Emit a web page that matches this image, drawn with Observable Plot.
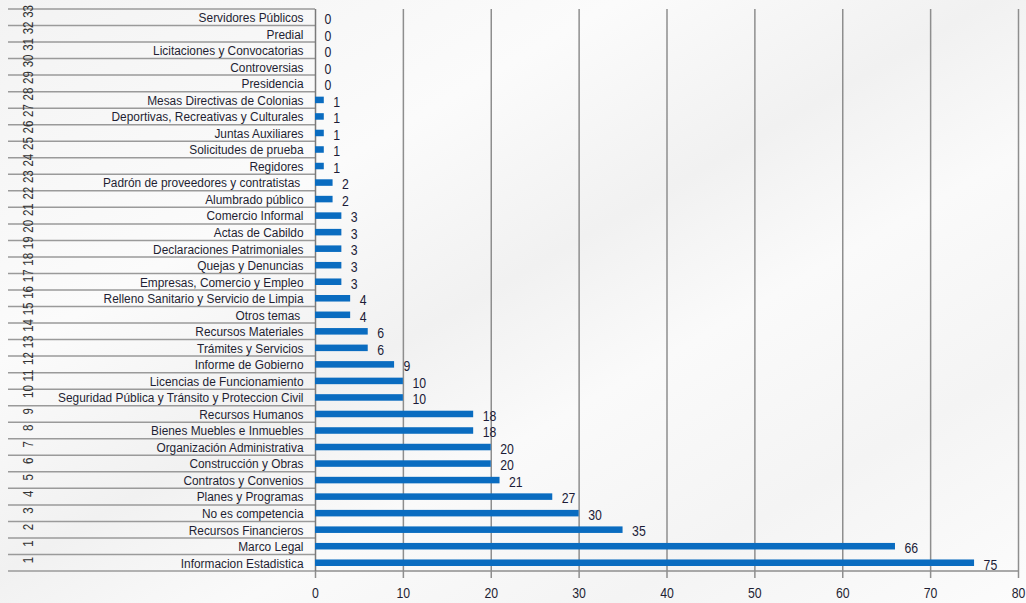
<!DOCTYPE html>
<html>
<head>
<meta charset="utf-8">
<script src="https://cdn.jsdelivr.net/npm/d3@7"></script>
<script src="https://cdn.jsdelivr.net/npm/@observablehq/plot@0.6"></script>
<style>
  html, body { margin: 0; padding: 0; }
  body {
    width: 1026px; height: 603px; overflow: hidden;
    background: linear-gradient(150deg, #f3f3f3 0%, #fbfbfb 30%, #f1f1f1 48%, #fafafa 62%, #f4f4f4 80%, #fcfcfc 100%);
  }
  #chart svg { display: block; background: transparent; }
  #chart text { font-family: "Liberation Sans", Arial, sans-serif; }
</style>
</head>
<body>
<div id="chart"></div>
<script>
const categories = [
  "Servidores Públicos", "Predial", "Licitaciones y Convocatorias", "Controversias", "Presidencia",
  "Mesas Directivas de Colonias", "Deportivas, Recreativas y Culturales", "Juntas Auxiliares",
  "Solicitudes de prueba", "Regidores", "Padrón de proveedores y contratistas ", "Alumbrado público",
  "Comercio Informal", "Actas de Cabildo", "Declaraciones Patrimoniales", "Quejas y Denuncias",
  "Empresas, Comercio y Empleo", "Relleno Sanitario y Servicio de Limpia", "Otros temas ",
  "Recursos Materiales", "Trámites y Servicios", "Informe de Gobierno", "Licencias de Funcionamiento",
  "Seguridad Pública y Tránsito y Proteccion Civil", "Recursos Humanos", "Bienes Muebles e Inmuebles",
  "Organización Administrativa", "Construcción y Obras", "Contratos y Convenios", "Planes y Programas",
  "No es competencia", "Recursos Financieros", "Marco Legal", "Informacion Estadistica"
];
const values = [0, 0, 0, 0, 0, 1, 1, 1, 1, 1, 2, 2, 3, 3, 3, 3, 3, 4, 4, 6, 6, 9, 10, 10, 18, 18, 20, 20, 21, 27, 30, 35, 66, 75];
const rowNumbers = ["33", "32", "31", "30", "29", "28", "27", "26", "25", "24", "23", "22", "21", "20", "19", "18", "17",
  "16", "15", "14", "13", "12", "11", "10", "9", "8", "7", "6", "5", "4", "3", "2", "1", "1"];
const xTicks = [0, 10, 20, 30, 40, 50, 60, 70, 80];

const data = categories.map((c, i) => ({cat: c, value: values[i], num: rowNumbers[i]}));

const plot = Plot.plot({
  width: 1026,
  height: 603,
  marginLeft: 315,
  marginRight: 8,
  marginTop: 9,
  marginBottom: 32,
  style: {background: "transparent", color: "#1f1f33"},
  x: {domain: [0, 80], ticks: xTicks},
  y: {domain: categories, padding: 0, round: false},
  marks: [
    Plot.ruleX(xTicks.slice(1), {stroke: "#8e8e8e", strokeWidth: 1.5}),
    Plot.ruleX([0], {stroke: "#7a7a7a", strokeWidth: 1.5}),
    Plot.barX(data, {x: "value", y: "cat", fill: "#0a6cc0", insetTop: 5, insetBottom: 5}),
    Plot.text(data, {x: "value", y: "cat", text: d => String(d.value), dx: 9, dy: 1.5, textAnchor: "start", fontSize: 15, fill: "#1c1c38"}),
    Plot.text(data, {y: "cat", text: "num", frameAnchor: "left", dx: -287, rotate: -90, fontSize: 14, fill: "#333"}),
    Plot.axisY({tickSize: 0, tickPadding: 12, fontSize: 13.5, label: null, fill: "#1f1f33"}),
    Plot.axisX({ticks: xTicks, tickSize: 7, tickPadding: 9, fontSize: 15, label: null, stroke: "#8e8e8e", strokeWidth: 1.5, fill: "#1f1f33"})
  ]
});

document.getElementById("chart").appendChild(plot);

const svg = d3.select(plot);
// narrow the type (Arial Narrow look) around each text's own anchor
svg.selectAll("g[aria-label='y-axis tick label'] text").each(function() {
  const t = this.getAttribute("transform");
  if (t && t.includes("translate")) this.setAttribute("transform", t + " scale(0.88,1)");
});
svg.selectAll("text").each(function() {
  const t = this.getAttribute("transform");
  if (t && t.includes("translate") && !t.includes("scale")) this.setAttribute("transform", t + " scale(0.82,1)");
});

// table grid lines in the label area, positioned with the plot's own y scale
const ys = plot.scale("y");
const xs = plot.scale("x");
const bw = ys.bandwidth;
const bounds = categories.map(c => ys.apply(c)).concat([ys.apply(categories[categories.length - 1]) + bw]);
const x0 = xs.apply(0);
const g = svg.insert("g", ":first-child");
g.selectAll("line.row").data(bounds).join("line")
  .attr("x1", 8).attr("x2", x0)
  .attr("y1", d => d).attr("y2", d => d)
  .attr("stroke", "#9a9a9a").attr("stroke-width", 1.5);
// x axis baseline
g.append("line")
  .attr("x1", x0).attr("x2", xs.apply(80))
  .attr("y1", bounds[bounds.length - 1]).attr("y2", bounds[bounds.length - 1])
  .attr("stroke", "#8e8e8e").attr("stroke-width", 1.5);
</script>
</body>
</html>
